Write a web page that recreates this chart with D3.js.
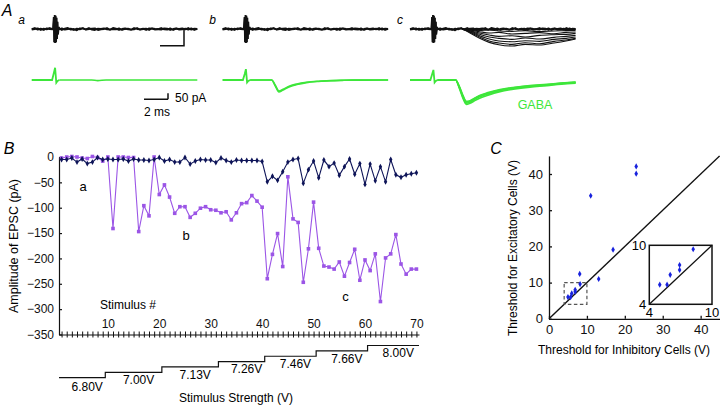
<!DOCTYPE html>
<html>
<head>
<meta charset="utf-8">
<script src="https://cdn.jsdelivr.net/npm/d3@7"></script>
<style>
  body { margin: 0; background: #fff; }
  svg { display: block; font-family: "Liberation Sans", Arial, Helvetica, sans-serif; }
</style>
</head>
<body>
<div id="chart-area"></div>
<script>
const width = 720, height = 406;

// ---------------- Panel B: EPSC amplitude (pA) for stimulus 1..70
const stimulus = d3.range(1, 71);
const ampA = [-5, -5, -2, -10, -4, -13, -10, -1, -5, -4, -5, -5, -4, -8, -4, -6, -6, -7, -5, -1,
              -8, -5, -10, -10, -1, -14, -8, -5, -6, -6, -11, -2, -7, -10, -6, -7, -7, -7, -7, -9,
              -49, -38, -46, -29, -10, -5, -3, -52, -25, -8, -41, -6, -19, -12, -36, -19, -4, -34, -13, -54,
              -14, -47, -19, -49, -5, -35, -40, -35, -33, -31];
const ampB = [-2, 0, 1, 0, -2, -3, 1, -1, -8, 0, -141, 0, 0, -1, -1, -147, -96, -116, 0, -74,
              -55, -79, -111, -98, -98, -119, -111, -101, -98, -104, -105, -110, -108, -124, -110, -92, -90, -76, -87, -99,
              -240, -192, -151, -216, -39, -122, -129, -247, -181, -89, -180, -215, -217, -221, -207, -235, -208, -182, -243, -203,
              -224, -191, -285, -199, -191, -153, -211, -231, -221, -221];
const stimTickLabels = [10, 20, 30, 40, 50, 60, 70];
const ampTicks = [0, -50, -100, -150, -200, -250, -300, -350];

// stimulus-strength staircase
const stepVolts = ["6.80V", "7.00V", "7.13V", "7.26V", "7.46V", "7.66V", "8.00V"];
const stepFirst = [1, 10, 21, 32, 41, 51, 61];
const stepLast = [9, 20, 31, 40, 50, 60, 70];

// ---------------- Panel C: thresholds (V)
const inhThreshold = [5.0, 5.7, 6.0, 6.9, 6.9, 8.2, 8.1, 13.1, 16.9, 11.0, 23.0, 23.0];
const excThreshold = [6.0, 6.0, 7.0, 7.5, 8.0, 9.6, 12.4, 11.0, 19.1, 34.0, 40.1, 42.1];
const cTicks = [0, 10, 20, 30, 40];
const insetTicks = [4, 10];

// ---------------- Panel A: traces (time in ms, current in pA)
const blackNoise1 = [0, 3, -2, 1, -3, 2, 0, -1, 0, 2, -3, 1, 3, -2, 0, -4, 2, 1, -1, 3, -2, -3, 1, 0, 2, -1, -2, 3,
                     1, -3, 0, 2, -1, -2, 3, 0, -1, 1, -3, 2, 1, -2, 0, 3, -1, -2, 2, -3, 1, 0, 2, -1, 3, -2, 1, 0];
const blackNoise2 = [-2, 0, 2, -3, 1, -1, 3, 0, -2, -1, 2, -2, 0, 1, -3, 1, -1, 3, -2, 0, 1, 2, -3, -1, 0, 3, -2, 0,
                     -1, 2, -3, 0, 1, -2, -1, 3, -2, 0, 1, -3, 2, 0, -1, -2, 2, 1, -3, 0, 2, -2, -1, 1, -2, 2, -3, 0];
const artT = [1.76, 1.82, 1.86, 1.9, 1.94, 1.98, 2.02, 2.06, 2.1, 2.14, 2.18, 2.24, 2.3];
const artBlack = [0, 36, -40, 42, -42, 40, -40, 34, -30, 22, -16, 6, 0];

const greenArtT = [0, 1.7, 1.85, 1.95, 2.05, 2.15, 2.3];
const greenArtA = [0, 0, 60, 102, -22, -8, 0];
const greenArtB = [0, 0, 50, 90, -20, -8, 0];
const greenArtC = [0, 0, 50, 84, -20, -8, 0];

const greenAT = [2.3, 5.0, 5.5, 6.2, 13.8];
const greenAV = [0, 0, -5, 0, 0];

const greenBT = [2.3, 4.1, 4.4, 4.7, 5.0, 5.6, 6.2, 7.0, 8.0, 9.0, 10.0, 11.0, 13.8];
const greenBV1 = [0, 0, -50, -100, -86, -56, -38, -22, -12, -6, -3, -1, 0];
const greenBV2 = [0, 0, -44, -92, -80, -50, -33, -19, -10, -5, -2, -1, 0];

const greenCT = [2.3, 3.8, 4.1, 4.4, 4.7, 5.0, 5.4, 5.8, 6.5, 7.5, 8.6, 10.0, 11.4, 12.6, 13.8];
const greenCV1 = [0, 0, -60, -140, -194, -185, -160, -140, -115, -88, -69, -52, -42, -30, -22];
const greenCV2 = [0, 0, -50, -125, -178, -172, -150, -128, -105, -80, -62, -46, -36, -26, -18];
const greenCV3 = [0, 0, -66, -150, -204, -194, -172, -152, -126, -97, -77, -59, -47, -35, -27];
const greenCV4 = [0, 0, -55, -132, -186, -178, -155, -134, -110, -84, -65, -49, -39, -28, -20];

const fanT = [4.4, 5.0, 5.8, 6.6, 7.4, 8.5, 9.6, 10.8, 12.0, 13.0, 13.8];
const fanTraces = [
  [0, -2, -4, -3, -6, -7, -5, -8, -6, -5, -4],
  [0, -3, -8, -12, -10, -15, -13, -11, -14, -10, -9],
  [0, -5, -12, -18, -22, -20, -24, -19, -17, -16, -13],
  [0, -6, -16, -24, -28, -31, -27, -30, -25, -22, -19],
  [0, -8, -20, -30, -36, -38, -35, -37, -31, -28, -24],
  [0, -10, -24, -36, -42, -46, -41, -44, -37, -33, -28],
  [0, -12, -28, -40, -47, -51, -46, -48, -42, -36, -30]
];

const panelStartX = [31.7, 222.5, 410];
const panelLetters = ["a", "b", "c"];

// -----------------------------------------------------------------------------
const svg = d3.select("#chart-area").append("svg")
    .attr("width", width)
    .attr("height", height);

const black = "#111", green = "#3de63a", navy = "#0e1458", purple = "#9b55e6", blue = "#1822dd";

// panel letters
svg.append("text").attr("x", 7).attr("y", 16).attr("text-anchor", "middle")
    .attr("font-size", 16).attr("font-style", "italic").text("A");
svg.append("text").attr("x", 9).attr("y", 154).attr("text-anchor", "middle")
    .attr("font-size", 16).attr("font-style", "italic").text("B");
svg.append("text").attr("x", 496).attr("y", 154).attr("text-anchor", "middle")
    .attr("font-size", 16).attr("font-style", "italic").text("C");

// ---------------- Panel A
const t = d3.scaleLinear().domain([0, 13.8]).range([0, 165.6]);
const yBlack = d3.scaleLinear().domain([-50, 50]).range([29 + 16.7, 29 - 16.7]);
const yGreen = d3.scaleLinear().domain([-100, 100]).range([80 + 12, 80 - 12]);

const traceLine = (ys) => d3.line().x(d => t(d[0])).y(d => ys(d[1])).curve(d3.curveLinear);
const smoothLine = (ys) => d3.line().x(d => t(d[0])).y(d => ys(d[1])).curve(d3.curveMonotoneX);
const noisePts = arr => arr.map((v, i) => [i * 13.8 / (arr.length - 1), v]);

const greenArts = [greenArtA, greenArtB, greenArtC];
const greenEvents = [
  [[greenAT, greenAV]],
  [[greenBT, greenBV1], [greenBT, greenBV2]],
  [[greenCT, greenCV1], [greenCT, greenCV2], [greenCT, greenCV3], [greenCT, greenCV4]]
];

panelStartX.forEach((x0, p) => {
  const g = svg.append("g").attr("transform", `translate(${x0},0)`);

  // black sweeps
  [blackNoise1, blackNoise2].forEach(arr => {
    g.append("path")
        .attr("fill", "none").attr("stroke", black).attr("stroke-width", 1.8)
        .attr("stroke-linejoin", "round")
        .attr("d", traceLine(yBlack)(noisePts(arr)));
  });
  [0, 0.03].forEach(dt => {
    g.append("path")
        .attr("fill", "none").attr("stroke", black).attr("stroke-width", 1.4)
        .attr("d", traceLine(yBlack)(artT.map((tt, i) => [tt + dt, artBlack[i]])));
  });
  if (p === 2) {
    fanTraces.forEach(tr => {
      g.append("path")
          .attr("fill", "none").attr("stroke", black).attr("stroke-width", 1.1)
          .attr("d", smoothLine(yBlack)(fanT.map((tt, i) => [tt, tr[i]])));
    });
  }

  // green sweeps
  g.append("path")
      .attr("fill", "none").attr("stroke", green).attr("stroke-width", 1.8)
      .attr("d", traceLine(yGreen)(greenArtT.map((tt, i) => [tt, greenArts[p][i]])));
  greenEvents[p].forEach(([ts, vs]) => {
    g.append("path")
        .attr("fill", "none").attr("stroke", green).attr("stroke-width", 1.6)
        .attr("d", smoothLine(yGreen)(ts.map((tt, i) => [tt, vs[i]])));
  });

  svg.append("text")
      .attr("x", x0 - 10).attr("y", 24)
      .attr("text-anchor", "middle")
      .attr("font-size", 12).attr("font-style", "italic")
      .text(panelLetters[p]);
});

// scale bars (2 ms, 50 pA)
const sb = svg.append("g").attr("fill", "none").attr("stroke", black).attr("stroke-width", 1.5);
sb.append("path").attr("d", `M${160},${yBlack(-50)}H${160 + t(2)}V${yBlack(0)}`);
sb.append("path").attr("d", `M${144},${99.3}H${144 + t(2)}M${144 + t(2)},${99.3}V${99.3 - (yGreen(0) - yGreen(50))}`);
svg.append("text").attr("x", 175).attr("y", 102).attr("font-size", 12).text("50 pA");
svg.append("text").attr("x", 144).attr("y", 116).attr("font-size", 12).text("2 ms");
svg.append("text").attr("x", 535).attr("y", 108.5).attr("text-anchor", "middle")
    .attr("font-size", 12.5).attr("fill", green).text("GABA");

// ---------------- Panel B
const x = d3.scaleLinear().domain([0.5, 70.5]).range([59, 419]);
const y = d3.scaleLinear().domain([-350, 0]).range([334.5, 157]);

svg.append("g")
    .attr("transform", `translate(${x(0.5)},0)`)
    .call(d3.axisLeft(y).tickValues(ampTicks).tickSizeInner(-3).tickSizeOuter(0).tickPadding(5))
    .call(g => g.selectAll("text").attr("font-size", 12).attr("font-family", null).attr("fill", black))
    .call(g => g.selectAll("line, path").attr("stroke", black).attr("stroke-width", 1.2));

svg.append("g")
    .attr("transform", `translate(0,${y(-350)})`)
    .call(d3.axisBottom(x).tickValues(stimulus).tickSizeOuter(0).tickFormat(""))
    .call(g => g.selectAll(".tick line").attr("y1", -3).attr("y2", 3))
    .call(g => g.selectAll("line, path").attr("stroke", black).attr("stroke-width", 1));

svg.append("g")
    .attr("transform", `translate(0,${y(-350)})`)
    .call(d3.axisTop(x).tickValues(stimTickLabels).tickSize(0).tickPadding(7))
    .call(g => g.select(".domain").remove())
    .call(g => g.selectAll("text").attr("font-size", 12).attr("font-family", null).attr("fill", black));

svg.append("text").attr("x", 100).attr("y", 309).attr("font-size", 12).text("Stimulus #");

svg.append("text")
    .attr("transform", `translate(18,${246}) rotate(-90)`)
    .attr("text-anchor", "middle").attr("font-size", 12.5)
    .text("Amplitude of EPSC (pA)");

const seriesLine = d3.line().x((d, i) => x(stimulus[i])).y(d => y(d));

svg.append("path").attr("fill", "none").attr("stroke", purple).attr("stroke-width", 1.1)
    .attr("d", seriesLine(ampB));
svg.append("g").attr("fill", purple)
  .selectAll("path").data(ampB).join("path")
    .attr("transform", (d, i) => `translate(${x(stimulus[i])},${y(d)})`)
    .attr("d", d3.symbol(d3.symbolSquare, 13));

svg.append("path").attr("fill", "none").attr("stroke", navy).attr("stroke-width", 1.1)
    .attr("d", seriesLine(ampA));
svg.append("g").attr("fill", navy)
  .selectAll("path").data(ampA).join("path")
    .attr("transform", (d, i) => `translate(${x(stimulus[i])},${y(d)})`)
    .attr("d", d3.symbol(d3.symbolDiamond, 10));

[["a", 5.2, -59], ["b", 25.2, -154], ["c", 56.2, -274]].forEach(([s, sx, sy]) => {
  svg.append("text").attr("x", x(sx)).attr("y", y(sy)).attr("dy", "0.35em")
      .attr("text-anchor", "middle").attr("font-size", 13).text(s);
});

// staircase of stimulus strength
const stepY = d3.scaleLinear().domain([0, 6]).range([377.7, 345.5]);
const stair = d3.path();
stepVolts.forEach((v, i) => {
  const xa = x(stepFirst[i] - 0.5), xb = x(stepLast[i] + 0.5);
  if (i === 0) stair.moveTo(xa, stepY(i)); else stair.lineTo(xa, stepY(i));
  stair.lineTo(xb, stepY(i));
});
svg.append("path").attr("fill", "none").attr("stroke", black).attr("stroke-width", 1.2)
    .attr("d", stair.toString());
stepVolts.forEach((v, i) => {
  const cx = (x(stepFirst[i] - 0.5) + x(stepLast[i] + 0.5)) / 2 + 5;
  svg.append("text").attr("x", cx).attr("y", stepY(i) + (i === 0 ? 9.5 : 7.5)).attr("dy", "0.35em")
      .attr("text-anchor", "middle").attr("font-size", 12).text(v);
});
svg.append("text").attr("x", 236).attr("y", 402).attr("text-anchor", "middle")
    .attr("font-size", 12).text("Stimulus Strength (V)");

// ---------------- Panel C
const xC = d3.scaleLinear().domain([0, 45]).range([549, 719.6]);
const yC = d3.scaleLinear().domain([0, 45]).range([318.8, 155.9]);

svg.append("g")
    .attr("transform", `translate(${xC(0)},0)`)
    .call(d3.axisLeft(yC).tickValues(cTicks).tickSizeInner(-3).tickSizeOuter(0).tickPadding(6))
    .call(g => g.selectAll("text").attr("font-size", 13).attr("font-family", null).attr("fill", black))
    .call(g => g.selectAll("line, path").attr("stroke", black).attr("stroke-width", 1.3));

svg.append("g")
    .attr("transform", `translate(0,${yC(0)})`)
    .call(d3.axisBottom(xC).tickValues(cTicks).tickSizeInner(-3).tickSizeOuter(0).tickPadding(6))
    .call(g => g.selectAll("text").attr("font-size", 13).attr("font-family", null).attr("fill", black))
    .call(g => g.selectAll("line, path").attr("stroke", black).attr("stroke-width", 1.3));

svg.append("text").attr("x", 624).attr("y", 353.5).attr("text-anchor", "middle")
    .attr("font-size", 12).text("Threshold for Inhibitory Cells (V)");
svg.append("text")
    .attr("transform", `translate(517,${248}) rotate(-90)`)
    .attr("text-anchor", "middle").attr("font-size", 12)
    .text("Threshold for Excitatory Cells (V)");

svg.append("line")
    .attr("x1", xC(0)).attr("y1", yC(0)).attr("x2", xC(45)).attr("y2", yC(45))
    .attr("stroke", black).attr("stroke-width", 1.4);

svg.append("rect")
    .attr("x", xC(4)).attr("y", yC(10))
    .attr("width", xC(10) - xC(4)).attr("height", yC(4) - yC(10))
    .attr("fill", "none").attr("stroke", "#555").attr("stroke-width", 1.2)
    .attr("stroke-dasharray", "3.5,2.5");

svg.append("g").attr("fill", blue)
  .selectAll("path").data(inhThreshold).join("path")
    .attr("transform", (d, i) => `translate(${xC(d)},${yC(excThreshold[i])})`)
    .attr("d", d3.symbol(d3.symbolDiamond, 11));

// inset (4..10 V)
const xI = d3.scaleLinear().domain([4, 10]).range([649.3, 712]);
const yI = d3.scaleLinear().domain([4, 10]).range([304.3, 245.3]);
const inset = svg.append("g");
inset.append("rect")
    .attr("x", xI(4)).attr("y", yI(10)).attr("width", xI(10) - xI(4)).attr("height", yI(4) - yI(10))
    .attr("fill", "#fff").attr("stroke", black).attr("stroke-width", 1.5);
inset.append("line")
    .attr("x1", xI(4)).attr("y1", yI(4)).attr("x2", xI(10)).attr("y2", yI(10))
    .attr("stroke", black).attr("stroke-width", 1.3);
inset.append("g").attr("fill", blue)
  .selectAll("path").data(inhThreshold.map((d, i) => [d, excThreshold[i]]).filter(d => d[0] >= 4 && d[0] <= 10 && d[1] >= 4 && d[1] <= 10))
  .join("path")
    .attr("transform", d => `translate(${xI(d[0])},${yI(d[1])})`)
    .attr("d", d3.symbol(d3.symbolDiamond, 11));
insetTicks.forEach(v => {
  inset.append("text").attr("x", xI(4) - 3).attr("y", yI(v)).attr("dy", "0.35em")
      .attr("text-anchor", "end").attr("font-size", 13).text(v);
  inset.append("text").attr("x", xI(v)).attr("y", 312).attr("dy", "0.35em")
      .attr("text-anchor", "middle").attr("font-size", 13).text(v);
});
</script>
</body>
</html>
